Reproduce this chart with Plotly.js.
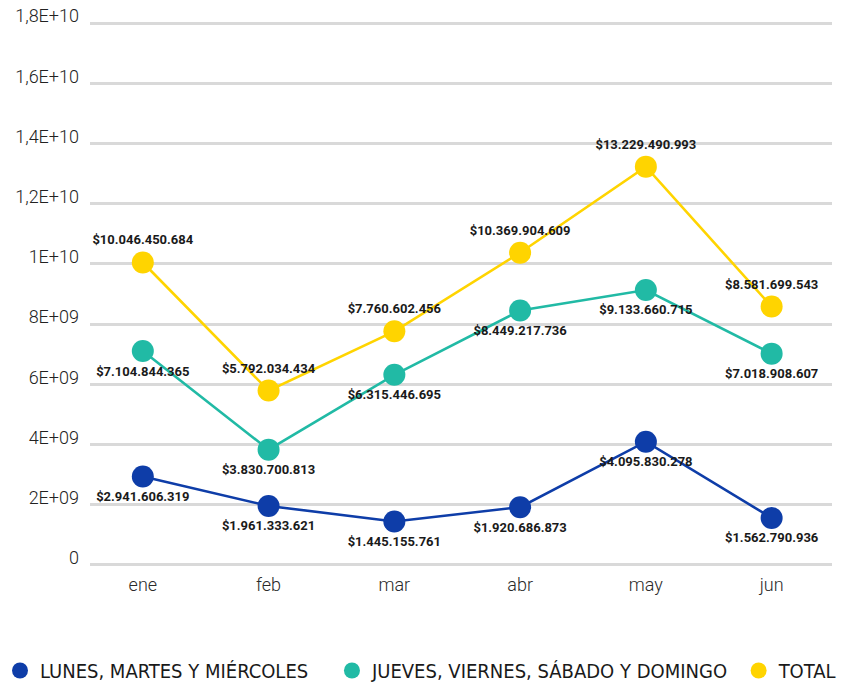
<!DOCTYPE html>
<html>
<head>
<meta charset="utf-8">
<script src="https://cdn.plot.ly/plotly-3.0.1.min.js"></script>
<style>html,body{margin:0;padding:0;background:#fff;}#chart{width:849px;height:687px;}</style>
</head>
<body>
<div id="chart"></div>
<script>
const months = ["ene", "feb", "mar", "abr", "may", "jun"];
const seriesNames = ["LUNES, MARTES Y MIÉRCOLES", "JUEVES, VIERNES, SÁBADO Y DOMINGO", "TOTAL"];
const lunesMiercoles = [2941606319, 1961333621, 1445155761, 1920686873, 4095830278, 1562790936];
const juevesDomingo = [7104844365, 3830700813, 6315446695, 8449217736, 9133660715, 7018908607];
const total = [10046450684, 5792034434, 7760602456, 10369904609, 13229490993, 8581699543];
const yTickVals = [0, 2e9, 4e9, 6e9, 8e9, 1e10, 1.2e10, 1.4e10, 1.6e10, 1.8e10];
const yTickText = ["0", "2E+09", "4E+09", "6E+09", "8E+09", "1E+10", "1,2E+10", "1,4E+10", "1,6E+10", "1,8E+10"];

const colors = ["#0E3DA8", "#21BAA5", "#FFD400"];
const fmt = v => "$" + String(v).replace(/\B(?=(\d{3})+(?!\d))/g, ".");
const labelFont = {family: "Roboto, sans-serif", size: 13, color: "#1a1a1a", weight: 700};

function lineTrace(y, i, pos) {
  return {
    x: months, y: y, type: "scatter", mode: "lines+markers+text",
    line: {color: colors[i], width: 2.6},
    marker: {color: colors[i], size: 22},
    text: y.map(fmt), textposition: pos, textfont: labelFont,
    cliponaxis: false, showlegend: false, hoverinfo: "skip"
  };
}
function legendTrace(i, leg) {
  return {
    x: [null], y: [null], type: "scatter", mode: "markers",
    name: seriesNames[i], marker: {color: colors[i], size: 22},
    showlegend: true, legend: leg
  };
}

const data = [
  lineTrace(lunesMiercoles, 0, "bottom center"),
  lineTrace(juevesDomingo, 1, "bottom center"),
  lineTrace(total, 2, "top center"),
  legendTrace(0, "legend"),
  legendTrace(1, "legend2"),
  legendTrace(2, "legend3")
];

const legFont = {family: "'Liberation Sans Narrow', 'DejaVu Sans Condensed', sans-serif", size: 20, color: "#1a1a1a"};
function leg(x) {
  return {xref: "container", yref: "container", x: x, y: 0.024, xanchor: "left", yanchor: "middle",
          orientation: "h", font: legFont, bgcolor: "rgba(0,0,0,0)", itemsizing: "trace"};
}

const layout = {
  width: 849, height: 687,
  margin: {l: 90, r: 17, t: 20, b: 119},
  paper_bgcolor: "#fff", plot_bgcolor: "#fff",
  xaxis: {
    range: [-0.42, 5.48], showgrid: false, zeroline: false, showline: false, ticks: "",
    tickfont: {family: "Roboto, sans-serif", size: 18, color: "#2a2a2a", weight: 300},
    ticklabelstandoff: 4
  },
  yaxis: {
    range: [-1e8, 1.81e10], tickvals: yTickVals, ticktext: yTickText,
    showgrid: true, gridcolor: "#d9d9d9", gridwidth: 3, zeroline: false, showline: false, ticks: "",
    tickfont: {family: "Roboto, sans-serif", size: 18, color: "#222", weight: 300},
    ticklabelstandoff: 10, ticklabelshift: -7
  },
  legend: leg(-0.005),
  legend2: leg(0.391),
  legend3: leg(0.870),
  showlegend: true
};

Plotly.newPlot("chart", data, layout, {displayModeBar: false, staticPlot: true});
</script>
</body>
</html>
